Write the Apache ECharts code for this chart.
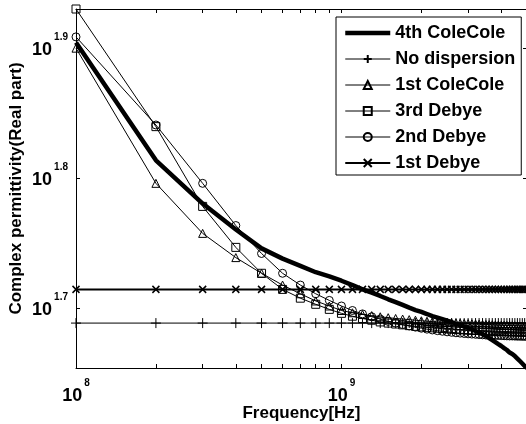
<!DOCTYPE html>
<html>
<head>
<meta charset="utf-8">
<script src="https://cdn.jsdelivr.net/npm/echarts@6/dist/echarts.min.js"></script>
<style>
  html, body { margin: 0; padding: 0; background: #fff; }
  #chart { width: 526px; height: 424px; }
</style>
</head>
<body>
<div id="chart"></div>
<script>
// Sample frequencies (Hz): 0.1 GHz steps from 0.1 to 5 GHz
const freqHz = [
  1e8, 2e8, 3e8, 4e8, 5e8, 6e8, 7e8, 8e8, 9e8, 1.0e9,
  1.1e9, 1.2e9, 1.3e9, 1.4e9, 1.5e9, 1.6e9, 1.7e9, 1.8e9, 1.9e9, 2.0e9,
  2.1e9, 2.2e9, 2.3e9, 2.4e9, 2.5e9, 2.6e9, 2.7e9, 2.8e9, 2.9e9, 3.0e9,
  3.1e9, 3.2e9, 3.3e9, 3.4e9, 3.5e9, 3.6e9, 3.7e9, 3.8e9, 3.9e9, 4.0e9,
  4.1e9, 4.2e9, 4.3e9, 4.4e9, 4.5e9, 4.6e9, 4.7e9, 4.8e9, 4.9e9, 5.0e9
];

// Real part of the complex permittivity for each dispersion model
const colecole4 = [
  80.2, 65.1, 60.3, 57.6, 55.7, 54.7, 54.0, 53.4, 53.0, 52.6,
  52.2, 51.8, 51.5, 51.2, 50.9, 50.65, 50.4, 50.16, 49.94, 49.77,
  49.59, 49.41, 49.28, 49.15, 49.02, 48.89, 48.72, 48.63, 48.5, 48.38,
  48.25, 48.12, 47.99, 47.86, 47.69, 47.53, 47.36, 47.19, 47.02, 46.86,
  46.69, 46.53, 46.32, 46.2, 46.03, 45.83, 45.63, 45.43, 45.23, 45.07
];
const noDispersion = [
  48.8, 48.8, 48.8, 48.8, 48.8, 48.8, 48.8, 48.8, 48.8, 48.8,
  48.8, 48.8, 48.8, 48.8, 48.8, 48.8, 48.8, 48.8, 48.8, 48.8,
  48.8, 48.8, 48.8, 48.8, 48.8, 48.8, 48.8, 48.8, 48.8, 48.8,
  48.8, 48.8, 48.8, 48.8, 48.8, 48.8, 48.8, 48.8, 48.8, 48.8,
  48.8, 48.8, 48.8, 48.8, 48.8, 48.8, 48.8, 48.8, 48.8, 48.8
];
const colecole1 = [
  79.4, 62.5, 57.2, 54.8, 53.3, 52.2, 51.4, 50.75, 50.3, 49.9,
  49.7, 49.55, 49.45, 49.35, 49.27, 49.2, 49.15, 49.1, 49.05, 49.0,
  48.96, 48.93, 48.9, 48.87, 48.85, 48.83, 48.81, 48.79, 48.77, 48.75,
  48.74, 48.72, 48.71, 48.69, 48.68, 48.67, 48.66, 48.64, 48.63, 48.62,
  48.61, 48.6, 48.59, 48.58, 48.57, 48.56, 48.55, 48.55, 48.54, 48.53
];
const debye3 = [
  85.1, 69.1, 60.0, 55.8, 53.3, 51.8, 51.0, 50.45, 50.0, 49.65,
  49.4, 49.2, 49.05, 48.9, 48.8, 48.72, 48.65, 48.58, 48.52, 48.47,
  48.43, 48.39, 48.36, 48.33, 48.3, 48.28, 48.26, 48.24, 48.22, 48.2,
  48.19, 48.17, 48.16, 48.15, 48.14, 48.13, 48.12, 48.11, 48.1, 48.09,
  48.08, 48.08, 48.07, 48.06, 48.06, 48.05, 48.05, 48.04, 48.04, 48.03
];
const debye2 = [
  81.0, 69.3, 62.5, 58.0, 55.2, 53.3, 52.2, 51.4, 50.8, 50.3,
  49.9, 49.6, 49.35, 49.15, 48.95, 48.8, 48.67, 48.55, 48.45, 48.36,
  48.28, 48.21, 48.15, 48.1, 48.05, 48.01, 47.97, 47.94, 47.91, 47.88,
  47.86, 47.84, 47.82, 47.8, 47.78, 47.77, 47.76, 47.75, 47.74, 47.73,
  47.72, 47.71, 47.7, 47.7, 47.69, 47.68, 47.68, 47.67, 47.67, 47.66
];
const debye1 = [
  51.8, 51.8, 51.8, 51.8, 51.8, 51.8, 51.8, 51.8, 51.8, 51.8,
  51.8, 51.8, 51.8, 51.8, 51.8, 51.8, 51.8, 51.8, 51.8, 51.8,
  51.8, 51.8, 51.8, 51.8, 51.8, 51.8, 51.8, 51.8, 51.8, 51.8,
  51.8, 51.8, 51.8, 51.8, 51.8, 51.8, 51.8, 51.8, 51.8, 51.8,
  51.8, 51.8, 51.8, 51.8, 51.8, 51.8, 51.8, 51.8, 51.8, 51.8
];

// Tick positions: frequency ticks (Hz) and labelled decade exponents
const xTickFreqs = [1e8, 2e8, 3e8, 4e8, 5e8, 6e8, 7e8, 8e8, 9e8, 1e9, 2e9, 3e9, 4e9];
const xLabelExponents = [8, 9];
const yLabelExponents = [1.7, 1.8, 1.9];

const FONT = 'Liberation Sans, Arial, Helvetica, sans-serif';
const lg = Math.log10;

// Both axes are logarithmic: plot log10 of frequency and permittivity
function toLogPoints(values) {
  return values.map((v, i) => [lg(freqHz[i]), lg(v)]);
}

const allValues = [].concat(colecole4, noDispersion, colecole1, debye3, debye2, debye1);
const xMin = lg(freqHz[0]);
const xMax = lg(freqHz[freqHz.length - 1]);
const yMin = lg(Math.min.apply(null, allValues));
const yMax = lg(Math.max.apply(null, allValues));

const powerRich = {
  b: { fontSize: 18, fontWeight: 'bold', fontFamily: FONT, color: '#000', lineHeight: 36 },
  s: { fontSize: 10, fontWeight: 'bold', fontFamily: FONT, color: '#000', lineHeight: 12,
       verticalAlign: 'top', padding: [0, 0, 0, 2] }
};

const frameLine = { show: true, onZero: false, lineStyle: { color: '#000', width: 1 } };
const tickStyle = { color: '#000', width: 1 };
const nameStyle = { fontSize: 17, fontWeight: 'bold', fontFamily: FONT, color: '#000' };

const xTickValues = xTickFreqs.map(lg);
const yTickValues = yLabelExponents.slice();

function xAxisDef(position, withLabels) {
  return {
    type: 'value', position: position, min: xMin, max: xMax,
    axisLine: frameLine,
    axisTick: { show: true, inside: true, length: 4, customValues: xTickValues, lineStyle: tickStyle },
    axisLabel: withLabels ? {
      show: true, customValues: xLabelExponents, margin: 10,
      formatter: v => '{b|10}{s|' + Math.round(v) + '}', rich: powerRich
    } : { show: false },
    splitLine: { show: false },
    name: withLabels ? 'Frequency[Hz]' : '',
    nameLocation: 'middle', nameGap: 37, nameMoveOverlap: false,
    nameTextStyle: nameStyle
  };
}

function yAxisDef(position, withLabels) {
  return {
    type: 'value', position: position, min: yMin, max: yMax,
    axisLine: frameLine,
    axisTick: { show: true, inside: true, length: 4, customValues: yTickValues, lineStyle: tickStyle },
    axisLabel: withLabels ? {
      show: true, customValues: yLabelExponents, margin: 8, padding: [4, 0, 0, 0],
      formatter: v => '{b|10}{s|' + v.toFixed(1) + '}', rich: powerRich
    } : { show: false },
    splitLine: { show: false },
    name: withLabels ? 'Complex permittivity(Real part)' : '',
    nameLocation: 'middle', nameGap: 51, nameMoveOverlap: false,
    nameTextStyle: nameStyle
  };
}

function markerSeries(name, values, symbol, size, lineWidth, borderWidth) {
  return {
    name: name, type: 'line', data: toLogPoints(values),
    symbol: symbol, symbolSize: size, showSymbol: true, showAllSymbol: true,
    lineStyle: { color: '#000', width: lineWidth },
    itemStyle: { color: 'none', borderColor: '#000', borderWidth: borderWidth },
    emphasis: { disabled: true }
  };
}

const series = [
  {
    name: '4th ColeCole', type: 'line', data: toLogPoints(colecole4),
    symbol: 'none', lineStyle: { color: '#000', width: 4.5 },
    itemStyle: { color: 'none', borderColor: 'none', borderWidth: 0 },
    emphasis: { disabled: true }
  },
  markerSeries('No dispersion', noDispersion, 'path://M5,0L5,10M0,5L10,5', 10, 1, 1),
  markerSeries('1st ColeCole', colecole1, 'triangle', 8, 1, 1),
  markerSeries('3rd Debye', debye3, 'rect', 8, 1, 1),
  markerSeries('2nd Debye', debye2, 'circle', 8, 1, 1),
  markerSeries('1st Debye', debye1, 'path://M0,0L10,10M10,0L0,10', 7, 2, 1.5)
];

// Legend entries carry the same stroke widths as their lines
const legendData = series.map(s => ({
  name: s.name,
  lineStyle: { width: s.lineStyle.width, color: '#000' }
}));

const chart = echarts.init(document.getElementById('chart'), null, { renderer: 'canvas' });
chart.setOption({
  animation: false,
  backgroundColor: '#fff',
  grid: { left: 76, top: 9, right: -1, bottom: 56, containLabel: false, outerBoundsMode: 'none' },
  xAxis: [xAxisDef('bottom', true), xAxisDef('top', false)],
  yAxis: [yAxisDef('left', true), yAxisDef('right', false)],
  legend: {
    orient: 'vertical', left: 336, top: 17,
    data: legendData,
    itemWidth: 45, itemHeight: 10, itemGap: 8,
    padding: [7, 6, 3, 7],
    backgroundColor: '#fff', borderColor: '#000', borderWidth: 1, borderRadius: 0,
    selectedMode: false,
    textStyle: { fontSize: 18, fontWeight: 'bold', fontFamily: FONT, color: '#000' }
  },
  series: series
});
</script>
</body>
</html>
